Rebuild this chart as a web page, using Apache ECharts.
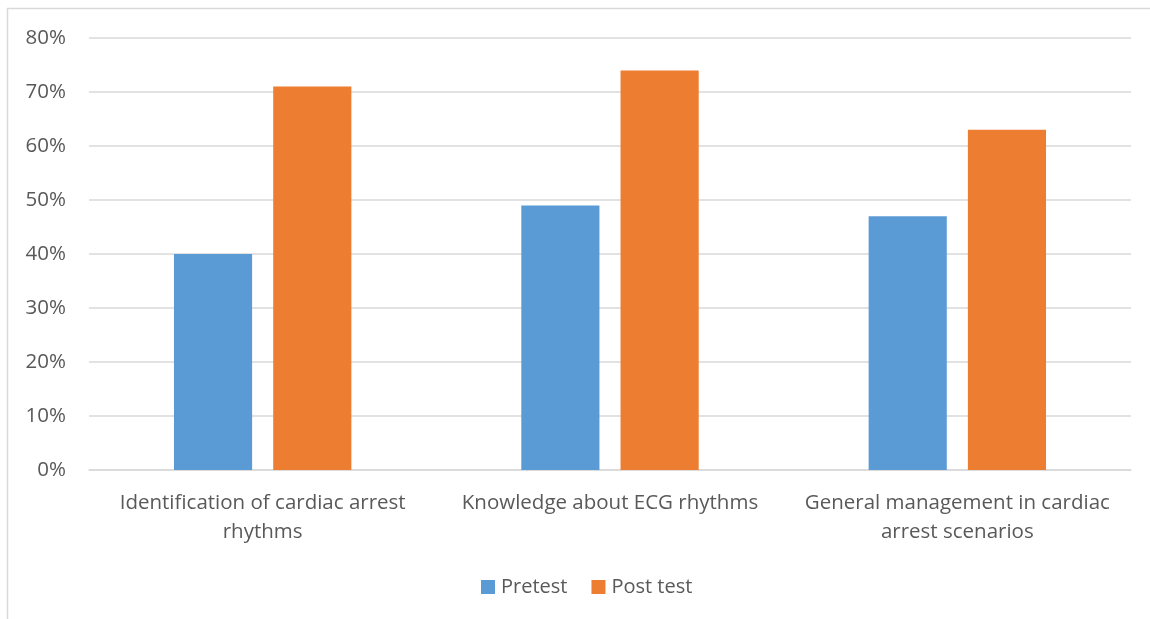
<!DOCTYPE html>
<html><head><meta charset="utf-8">
<script src="https://cdn.jsdelivr.net/npm/echarts@6/dist/echarts.min.js"></script>
<style>html,body{margin:0;padding:0;background:#fff}#c{width:1150px;height:619px}</style>
</head><body><div id="c"></div>
<script>
var categories = ["Identification of cardiac arrest\nrhythms", "Knowledge about ECG rhythms", "General management in cardiac\narrest scenarios"];
var pretest = [40, 49, 47];
var posttest = [71, 74, 63];
var yTicks = [0, 10, 20, 30, 40, 50, 60, 70, 80];

var chart = echarts.init(document.getElementById('c'), null, {renderer: 'canvas'});
var font = '"Open Sans", sans-serif';
chart.setOption({
  animation: false,
  graphic: [{type: 'rect', shape: {x: 7.5, y: 8.5, width: 1300, height: 800}, style: {fill: 'none', stroke: '#d9d9d9', lineWidth: 1.5}, silent: true}],
  grid: {left: 89, right: 19, top: 38, bottom: 149, containLabel: false},
  legend: {
    data: ['Pretest', 'Post test'], left: 476, top: 572, itemWidth: 14, itemHeight: 14, itemGap: 24,
    icon: 'rect', textStyle: {fontSize: 20, color: '#595959', fontFamily: font, padding: [0,0,0,1]}
  },
  xAxis: {
    type: 'category', data: categories,
    axisLine: {lineStyle: {color: '#d9d9d9', width: 1.5}}, axisTick: {show: false},
    axisLabel: {fontSize: 20.5, color: '#595959', fontFamily: font, margin: 19, lineHeight: 29, interval: 0}
  },
  yAxis: {
    type: 'value', min: 0, max: 80, interval: 10,
    axisLine: {show: false}, axisTick: {show: false},
    splitLine: {lineStyle: {color: '#d9d9d9', width: 1.5}},
    axisLabel: {fontSize: 20.5, color: '#595959', fontFamily: font, margin: 23, formatter: function(v){return yTicks.indexOf(v) >= 0 ? v + '%' : '';}}
  },
  series: [
    {name: 'Pretest', type: 'bar', data: pretest, barWidth: '22.5%', barGap: '27%', itemStyle: {color: '#5b9bd5'}},
    {name: 'Post test', type: 'bar', data: posttest, barWidth: '22.5%', barGap: '27%', itemStyle: {color: '#ed7d31'}}
  ]
});
</script></body></html>
